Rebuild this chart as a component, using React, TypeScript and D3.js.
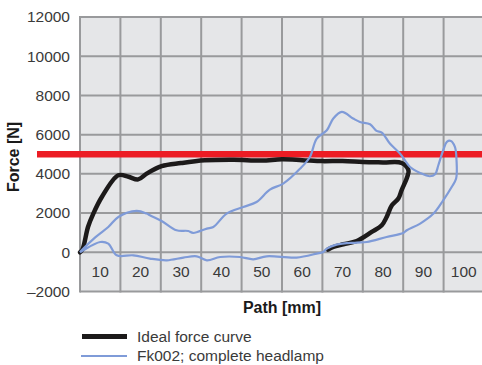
import React from 'react';
import * as d3 from 'd3';

// path [mm], force [N]
const idealPath = [0, 0.6, 2, 3.3, 5.4, 9.5, 12, 14.4, 16.5, 20.2, 25, 30.9, 38, 45, 50, 55, 60, 65, 70, 75, 79.6, 81.3, 81.0, 79.6, 78.8, 77.2, 75.9, 74.7, 72.2, 68.5, 65.2, 62.7, 61.4];
const idealForce = [0, 140, 1300, 1970, 2820, 3930, 3850, 3720, 4010, 4390, 4550, 4690, 4720, 4680, 4740, 4700, 4650, 4660, 4610, 4580, 4556, 4184, 3842, 3163, 2740, 2398, 1801, 1378, 1036, 577, 408, 270, 138];

const fkPath = [0, 0.6, 3.7, 7, 9.5, 14, 16.5, 17.3, 20.2, 23.9, 26.8, 28, 31.4, 33, 36.3, 40.4, 43.7, 47, 50.3, 54.5, 56.9, 58.6, 61.1, 62.7, 64.8, 67.6, 69.3, 71.8, 73.4, 74.7, 76.7, 79.2, 81.7, 84.2, 86.6, 87.9, 88.7, 89.9, 90.8, 91.8, 92.8, 93.2, 93.1, 92, 89.9, 87.5, 84.2, 80.9, 80, 75.9, 71, 68.5, 63.5, 61.1, 60.2, 58.6, 53.6, 46.2, 42.9, 39.6, 34.7, 31.4, 28.9, 25.6, 21.5, 17.3, 13.2, 9.1, 7, 5, 0.8, 0];
const fkForce = [0, 138, 750, 1290, 1800, 2107, 1974, 1888, 1597, 1122, 1087, 985, 1209, 1290, 1974, 2311, 2566, 3199, 3505, 4270, 4862, 5801, 6224, 6821, 7158, 6821, 6648, 6531, 6189, 6107, 5546, 5036, 4352, 4046, 3878, 3980, 4439, 5204, 5628, 5679, 5372, 4694, 3760, 3332, 2653, 1974, 1464, 1122, 985, 781, 526, 495, 393, 189, 15, -66, -270, -204, -357, -240, -240, -408, -204, -270, -408, -321, -153, -153, 444, 526, 102, 0];

const limitForce = 5000;

const yTicks = [-2000, 0, 2000, 4000, 6000, 8000, 10000, 12000];
const xGrid = [0, 10, 20, 30, 40, 50, 60, 70, 80, 90, 100];
const xLabels = [10, 20, 30, 40, 50, 60, 70, 80, 90, 100];

const legendItems = ['Ideal force curve', 'Fk002; complete headlamp'];

const font = '"Liberation Sans", Arial, Helvetica, sans-serif';

export default function App() {
  const x = d3.scaleLinear().domain([0, 100]).range([80, 484]);
  const y = d3.scaleLinear().domain([-2000, 12000]).range([291.5, 17]);

  const makePath = (xs: number[], ys: number[]) =>
    d3
      .line<number>()
      .x((d) => x(d))
      .y((_, i) => y(ys[i]))
      .curve(d3.curveCatmullRom.alpha(0.5))(xs) || '';

  return (
    <svg width={482} height={365} style={{ position: 'absolute', left: 0, top: 0 }} fontFamily={font}>
      <rect x={x(0)} y={y(12000)} width={x(100) - x(0)} height={y(-2000) - y(12000)} fill="#e5e6e8" />
      {yTicks.map((t) => (
        <line key={'h' + t} x1={x(0)} x2={x(100)} y1={y(t)} y2={y(t)} stroke="#999a9c" strokeWidth={2} />
      ))}
      {xGrid.map((t) => (
        <line key={'v' + t} x1={x(t)} x2={x(t)} y1={y(12000) - 1} y2={y(-2000) + 1} stroke="#999a9c" strokeWidth={2} />
      ))}
      {yTicks.map((t) => (
        <text key={'yl' + t} x={70} y={y(t)} dy="0.35em" textAnchor="end" fontSize={15.5} fill="#3a3a3a">
          {t < 0 ? '\u2013' + Math.abs(t) : t}
        </text>
      ))}
      {xLabels.map((t) => (
        <text key={'xl' + t} x={x(t - 5)} y={(y(0) + y(-2000)) / 2} dy="0.35em" textAnchor="middle" fontSize={15.5} fill="#3a3a3a">
          {t}
        </text>
      ))}
      <line x1={37} x2={482} y1={y(limitForce)} y2={y(limitForce)} stroke="#ec1c24" strokeWidth={6.5} />
      <path d={makePath(idealPath, idealForce)} fill="none" stroke="#1c1a1a" strokeWidth={4.5} strokeLinejoin="round" strokeLinecap="round" />
      <path d={makePath(fkPath, fkForce)} fill="none" stroke="#7f9bd8" strokeWidth={2.2} strokeLinejoin="round" />
      <text x={282} y={307} dy="0.35em" textAnchor="middle" fontSize={16} fontWeight="bold" fill="#1a1a1a">
        Path [mm]
      </text>
      <text transform={`translate(19,157) rotate(-90)`} textAnchor="middle" fontSize={16} fontWeight="bold" fill="#1a1a1a">
        Force [N]
      </text>
      <line x1={82} x2={127} y1={336.5} y2={336.5} stroke="#1c1a1a" strokeWidth={5} />
      <line x1={81} x2={127} y1={356} y2={356} stroke="#7f9bd8" strokeWidth={2.2} />
      {legendItems.map((t, i) => (
        <text key={t} x={137} y={336.5 + i * 19.5} dy="0.35em" fontSize={15.5} fill="#3a3a3a">
          {t}
        </text>
      ))}
    </svg>
  );
}
